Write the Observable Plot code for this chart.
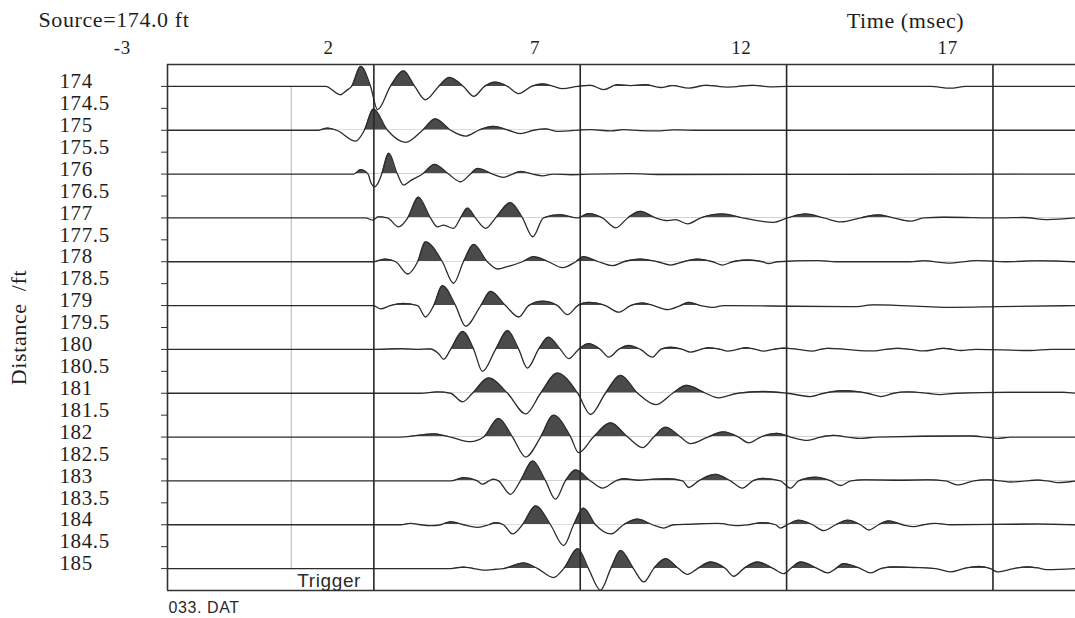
<!DOCTYPE html>
<html>
<head>
<meta charset="utf-8">
<script src="https://cdn.jsdelivr.net/npm/d3@7"></script>
<script src="https://cdn.jsdelivr.net/npm/@observablehq/plot@0.6"></script>
<style>
  html, body { margin: 0; padding: 0; background: #fff; overflow: hidden; }
  svg text { letter-spacing: 0.6px; }
</style>
</head>
<body>
<div id="chart"></div>
<script>
// ---- data (time in ms, amplitude in units of half a trace spacing; positive = filled lobe) ----
const distances = [174, 175, 176, 177, 178, 179, 180, 181, 182, 183, 184, 185];
const yTickValues = [174, 174.5, 175, 175.5, 176, 176.5, 177, 177.5, 178, 178.5, 179, 179.5,
                     180, 180.5, 181, 181.5, 182, 182.5, 183, 183.5, 184, 184.5, 185];
const xTickLabels = [-3, 2, 7, 12, 17];
const gridTimes = [3, 8, 13, 18];
const triggerTime = 1;
const xDomain = [-2, 20];
const yDomain = [173.5, 185.5];

const trace174 = [[-2,0],[1.83,0],[2.19,-0.38],[2.34,-0.18],[2.46,0],[2.68,0.91],[2.92,0],[3.09,-1.06],[3.40,0],
  [3.72,0.71],[3.99,0],[4.25,-0.61],[4.57,0],[4.83,0.41],[5.17,0],[5.42,-0.45],[5.68,0],[5.95,0.2],[6.24,0],
  [6.51,-0.33],[6.82,0],[7.09,0.11],[7.35,0],[7.57,-0.1],[7.94,0],[8.25,0.05],[8.57,-0.15],[8.90,0.08],[9.22,0.04],
  [9.58,0.08],[9.95,-0.05],[10.24,0.04],[10.63,-0.08],[11.04,0.05],[11.57,-0.03],[12.20,0.05],[12.61,-0.02],
  [13.02,0],[16.49,0],[16.97,-0.08],[17.34,0],[20,0]];
const trace175 = [[-2,0],[1.66,0],[1.88,0.1],[2.10,0],[2.56,-0.5],[2.77,0],[2.99,0.97],[3.33,0],[3.77,-0.55],
  [4.18,0],[4.49,0.52],[4.86,0],[5.22,-0.27],[5.54,0],[5.90,0.18],[6.26,0],[6.55,-0.15],[6.87,0],[7.16,0.06],
  [7.45,-0.05],[8.25,0.03],[8.74,-0.03],[9.05,0.03],[9.46,-0.02],[9.87,-0.03],[10.26,0.02],[10.92,0],[14.55,0],[20,0]];
const trace176 = [[-2,0],[2.51,0],[2.68,0.2],[2.86,0],[2.92,-0.35],[3.02,-0.58],[3.09,-0.45],[3.19,0],[3.36,0.95],
  [3.57,0],[3.72,-0.5],[3.89,-0.3],[4.18,0],[4.47,0.44],[4.81,0],[5.10,-0.35],[5.34,0],[5.51,0.26],[5.88,0],
  [6.14,-0.15],[6.36,0],[6.55,0.12],[6.85,0],[7.09,-0.08],[7.35,0],[7.77,-0.03],[8.25,0],[9.22,0.02],[9.95,-0.02],[20,0]];
const trace177 = [[-2,0],[2.80,0],[2.97,-0.1],[3.11,0.05],[3.33,0],[3.60,-0.41],[3.82,0],[4.08,0.95],[4.37,0],
  [4.54,-0.41],[4.69,-0.33],[4.93,-0.48],[5.10,0],[5.27,0.45],[5.46,0],[5.71,-0.48],[5.95,0],[6.31,0.7],[6.60,0],
  [6.85,-0.86],[7.11,0],[7.52,0.15],[7.94,0],[8.20,0.2],[8.54,0],[8.86,-0.45],[9.15,0],[9.46,0.3],[9.83,0],
  [10.12,-0.12],[10.31,-0.08],[10.60,-0.27],[10.92,0],[11.45,0.18],[11.93,0],[12.68,-0.2],[13.02,0],[13.46,0.18],
  [13.90,0],[14.31,-0.18],[14.79,0],[15.23,0.14],[15.59,0],[16.00,-0.15],[16.32,0],[16.80,0.03],[18.19,0],
  [18.74,0.02],[19.32,-0.08],[20,0]];
const trace178 = [[-2,0],[2.99,0],[3.28,0.12],[3.53,0],[3.82,-0.56],[4.06,0],[4.25,0.91],[4.66,0],[4.93,-0.98],
  [5.17,0],[5.42,0.79],[5.75,0],[6.00,-0.33],[6.24,-0.22],[6.60,0],[6.87,0.23],[7.23,0],[7.57,-0.27],[7.89,0],
  [8.08,0.23],[8.44,0],[8.78,-0.18],[9.05,0],[9.46,0.12],[9.87,0],[10.19,-0.15],[10.50,0],[10.84,0.12],[11.21,0],
  [11.45,-0.15],[11.69,0],[12.05,0.08],[12.42,0],[12.56,-0.08],[12.78,0],[13.75,0.05],[14.2,0],[16.0,0],
  [16.32,0.04],[16.90,-0.06],[17.63,0.05],[18.3,0],[19.08,0.04],[20,0]];
const trace179 = [[-2,0],[2.99,0],[3.16,-0.15],[3.40,0],[3.70,0.1],[4.06,0],[4.25,-0.52],[4.45,0],[4.66,0.91],
  [4.98,0],[5.22,-0.94],[5.59,0],[5.83,0.65],[6.19,0],[6.51,-0.52],[6.75,0],[7.09,0.2],[7.45,0],[7.69,-0.41],
  [7.94,0],[8.20,0.15],[8.61,0],[8.93,-0.3],[9.22,0],[9.51,0.12],[9.78,0],[10.12,-0.18],[10.43,0],[10.63,0.15],
  [10.92,0],[11.23,-0.08],[11.47,0],[13.17,-0.03],[14.62,-0.05],[15.11,0.03],[17.05,-0.08],[18.11,-0.05],[20,0]];
const trace180 = [[-2,0],[2.99,0],[3.65,0.03],[4.06,0],[4.37,0.02],[4.57,-0.2],[4.69,-0.45],[4.86,0],[5.15,0.82],
  [5.42,0],[5.63,-1.0],[5.95,0],[6.24,0.86],[6.51,0],[6.72,-0.85],[6.99,0],[7.23,0.56],[7.52,0],[7.72,-0.42],
  [7.96,0],[8.20,0.26],[8.49,0],[8.69,-0.35],[8.93,0],[9.17,0.18],[9.46,0],[9.75,-0.35],[9.95,0],[10.19,0.1],
  [10.48,0],[10.67,-0.12],[10.92,0],[11.11,0.08],[11.40,0],[11.57,-0.08],[11.81,0],[12.01,0.08],[12.25,0],
  [12.44,-0.08],[12.68,0],[12.93,0.06],[13.27,0],[13.63,-0.08],[13.82,0],[13.99,0.05],[14.43,0],[15.08,-0.07],
  [15.40,0],[15.69,0.05],[16.00,0],[16.32,-0.07],[16.61,0],[16.80,0.05],[17.02,0],[17.22,-0.05],[17.58,0],
  [18.91,-0.05],[19.40,0],[20,0]];
const trace181 = [[-2,0],[4.13,0],[4.54,0.06],[4.86,0],[5.15,-0.39],[5.39,0],[5.78,0.7],[6.24,0],[6.68,-0.94],
  [7.04,0],[7.45,0.92],[7.94,0],[8.25,-0.97],[8.61,0],[8.98,0.82],[9.39,0],[9.83,-0.52],[10.24,0],[10.58,0.36],
  [11.04,0],[11.35,-0.21],[11.81,0],[12.44,0.08],[13.02,0],[13.58,-0.15],[13.90,0],[14.38,0.12],[14.96,0],
  [15.28,-0.15],[15.59,0],[15.93,0.06],[16.42,0],[16.71,-0.06],[17.09,0],[18.35,0.04],[19.71,0.04],[20,0]];
const trace182 = [[-2,0],[3.65,0],[4.45,0.15],[4.86,0],[5.34,-0.21],[5.66,0],[6.02,0.85],[6.36,0],[6.68,-0.91],
  [7.04,0],[7.35,1.0],[7.77,0],[7.96,-0.71],[8.32,0],[8.74,0.65],[9.15,0],[9.51,-0.48],[9.78,0],[10.07,0.45],
  [10.43,0],[10.67,-0.3],[11.09,0],[11.47,0.24],[11.84,0],[12.08,-0.26],[12.37,0],[12.78,0.17],[13.10,0],
  [13.51,-0.15],[13.82,0],[14.14,0.08],[14.48,0],[14.79,-0.06],[15.16,0],[17.46,0.05],[17.82,0],[18.11,-0.06],
  [18.43,0],[20,0]];
const trace183 = [[-2,0],[4.86,0],[5.17,0.15],[5.51,0],[5.63,-0.15],[5.79,0],[5.90,0.08],[6.02,0],[6.31,-0.61],
  [6.55,0],[6.85,0.91],[7.16,0],[7.40,-0.83],[7.64,0],[7.89,0.5],[8.25,0],[8.54,-0.33],[8.86,0],[9.05,0.1],
  [9.41,0.03],[9.78,0.08],[10.12,0.1],[10.48,0],[10.63,-0.3],[10.87,0],[11.28,0.3],[11.64,0],[11.93,-0.33],
  [12.18,0],[12.42,0.12],[12.85,0],[13.10,-0.33],[13.29,0],[13.70,0.17],[14.07,0],[14.31,-0.21],[14.55,0],
  [14.91,0.05],[15.76,0.03],[16.42,0.05],[16.85,0],[17.14,-0.18],[17.53,0],[17.87,0.05],[18.19,0],[18.43,-0.05],
  [18.79,0],[19.08,0.04],[19.32,0],[19.57,-0.08],[20,0]];
const trace184 = [[-2,0],[3.65,0],[3.89,0.06],[4.13,0],[4.37,-0.04],[4.62,0],[4.86,0.14],[5.17,0],[5.51,-0.12],
  [5.79,0],[5.95,0.1],[6.14,0],[6.36,-0.42],[6.60,0],[6.92,0.86],[7.28,0],[7.60,-0.95],[7.84,0],[8.08,0.76],
  [8.37,0],[8.74,-0.42],[9.05,0],[9.39,0.26],[9.75,0],[10.02,-0.15],[10.26,0],[10.67,0.02],[11.33,0.06],
  [11.81,-0.04],[12.08,0],[12.42,0.1],[12.73,0],[12.85,-0.15],[13.02,0],[13.29,0.21],[13.63,0],[13.90,-0.27],
  [14.19,0],[14.48,0.21],[14.79,0],[14.99,-0.24],[15.23,0],[15.47,0.18],[15.81,0],[16.08,-0.09],[16.32,0],
  [16.61,0.06],[16.97,0],[19.08,0.03],[20,0]];
const trace185 = [[-2,0],[4.86,0],[5.17,0.07],[5.42,0],[5.66,-0.07],[5.95,-0.03],[6.14,0],[6.63,0.26],[6.97,0],
  [7.35,-0.41],[7.60,0],[7.94,0.91],[8.20,0],[8.49,-0.98],[8.74,0],[8.98,0.83],[9.29,0],[9.54,-0.61],[9.78,0],
  [10.07,0.45],[10.38,0],[10.60,-0.26],[10.84,0],[11.16,0.3],[11.52,0],[11.72,-0.35],[11.96,0],[12.30,0.3],
  [12.68,0],[12.93,-0.23],[13.10,0],[13.34,0.3],[13.75,0],[13.99,-0.2],[14.19,0],[14.38,0.23],[14.79,0],
  [15.04,-0.2],[15.28,0],[15.59,0.08],[16.08,0.05],[16.61,0],[16.97,-0.15],[17.29,0],[17.65,0.1],[17.94,0],
  [18.11,-0.15],[18.50,0],[18.84,0.08],[19.16,0],[19.32,-0.05],[20,0]];

const traces = [trace174, trace175, trace176, trace177, trace178, trace179,
                trace180, trace181, trace182, trace183, trace184, trace185];

// ---- chart ----
const serif = "'Liberation Serif', 'Times New Roman', serif";
const sans = "'Liberation Sans', Arial, sans-serif";
const ink = "#1e1e1e";
const traceY = d => p => d - p[1] * 0.5;
const curve = "monotone-x";

const chart = Plot.plot({
  width: 1075,
  height: 618,
  marginLeft: 167,
  marginRight: 0,
  marginTop: 64,
  marginBottom: 28,
  style: {background: "#fff", color: ink, fontFamily: serif},
  x: {domain: xDomain, axis: null},
  y: {domain: yDomain, reverse: true},
  marks: [
    // filled positive lobes
    ...distances.map((d, i) => Plot.areaY(traces[i], {
      x: p => p[0], y1: () => d, y2: traceY(d), curve, fill: "#4a4a4a"
    })),
    // trigger line
    Plot.ruleX([triggerTime], {y1: distances[0], y2: distances[distances.length - 1], stroke: "#c2c2c2", strokeWidth: 1.2}),
    // wiggle traces
    ...distances.map((d, i) => Plot.line(traces[i], {
      x: p => p[0], y: traceY(d), curve, stroke: "#2b2b2b", strokeWidth: 1.3
    })),
    // vertical time lines
    Plot.ruleX(gridTimes, {stroke: "#262626", strokeWidth: 1.6}),
    // frame (top, bottom, left)
    Plot.ruleY(yDomain, {stroke: "#333", strokeWidth: 1.5}),
    Plot.ruleX([xDomain[0]], {stroke: "#333", strokeWidth: 1.6}),
    // y ticks
    Plot.axisY({ticks: yTickValues, tickSize: 6, tickFormat: () => "", label: null, stroke: "#333"}),
    // y tick labels
    Plot.text(yTickValues, {
      y: d => d, text: d => String(d), frameAnchor: "left", dx: -108, dy: -5,
      textAnchor: "start", lineAnchor: "middle", fontSize: 21, fontFamily: serif, fill: ink
    }),
    // x tick labels (top)
    Plot.text(xTickLabels, {
      x: d => d, text: d => String(d), frameAnchor: "top", dx: -4, dy: -11,
      lineAnchor: "bottom", fontSize: 19, fontFamily: serif, fill: ink
    }),
    // titles
    Plot.text(["Source=174.0 ft"], {
      frameAnchor: "top-left", dx: -129, dy: -38, textAnchor: "start", lineAnchor: "bottom",
      fontSize: 22, fontFamily: serif, fill: ink
    }),
    Plot.text(["Time (msec)"], {
      frameAnchor: "top-right", dx: -170, dy: -37, textAnchor: "middle", lineAnchor: "bottom",
      fontSize: 22, fontFamily: serif, fill: ink
    }),
    Plot.text(["Distance  /ft"], {
      frameAnchor: "left", dx: -149, dy: 0, rotate: -90, textAnchor: "middle", lineAnchor: "middle",
      fontSize: 22, fontFamily: serif, fill: ink
    }),
    Plot.text([triggerTime], {
      x: d => d, text: () => "Trigger", frameAnchor: "bottom", dx: 6, dy: -4,
      textAnchor: "start", lineAnchor: "bottom", fontSize: 19, fontFamily: sans, fill: "#2a2a2a"
    }),
    Plot.text(["033. DAT"], {
      frameAnchor: "bottom-left", dx: 1, dy: 22, textAnchor: "start", lineAnchor: "bottom",
      fontSize: 16, fontFamily: sans, fill: "#2a2a2a"
    })
  ]
});

// clip each filled area to the part above its own baseline (positive lobes only)
const yScale = chart.scale("y");
const svg = d3.select(chart);
const defs = svg.insert("defs", ":first-child");
svg.selectAll("g[aria-label='area']").each(function(_, i) {
  const id = "lobe-clip-" + i;
  defs.append("clipPath").attr("id", id)
    .append("rect").attr("x", 0).attr("y", 0)
    .attr("width", 1075).attr("height", yScale.apply(distances[i]));
  d3.select(this).attr("clip-path", `url(#${id})`);
});

document.getElementById("chart").appendChild(chart);
</script>
</body>
</html>
